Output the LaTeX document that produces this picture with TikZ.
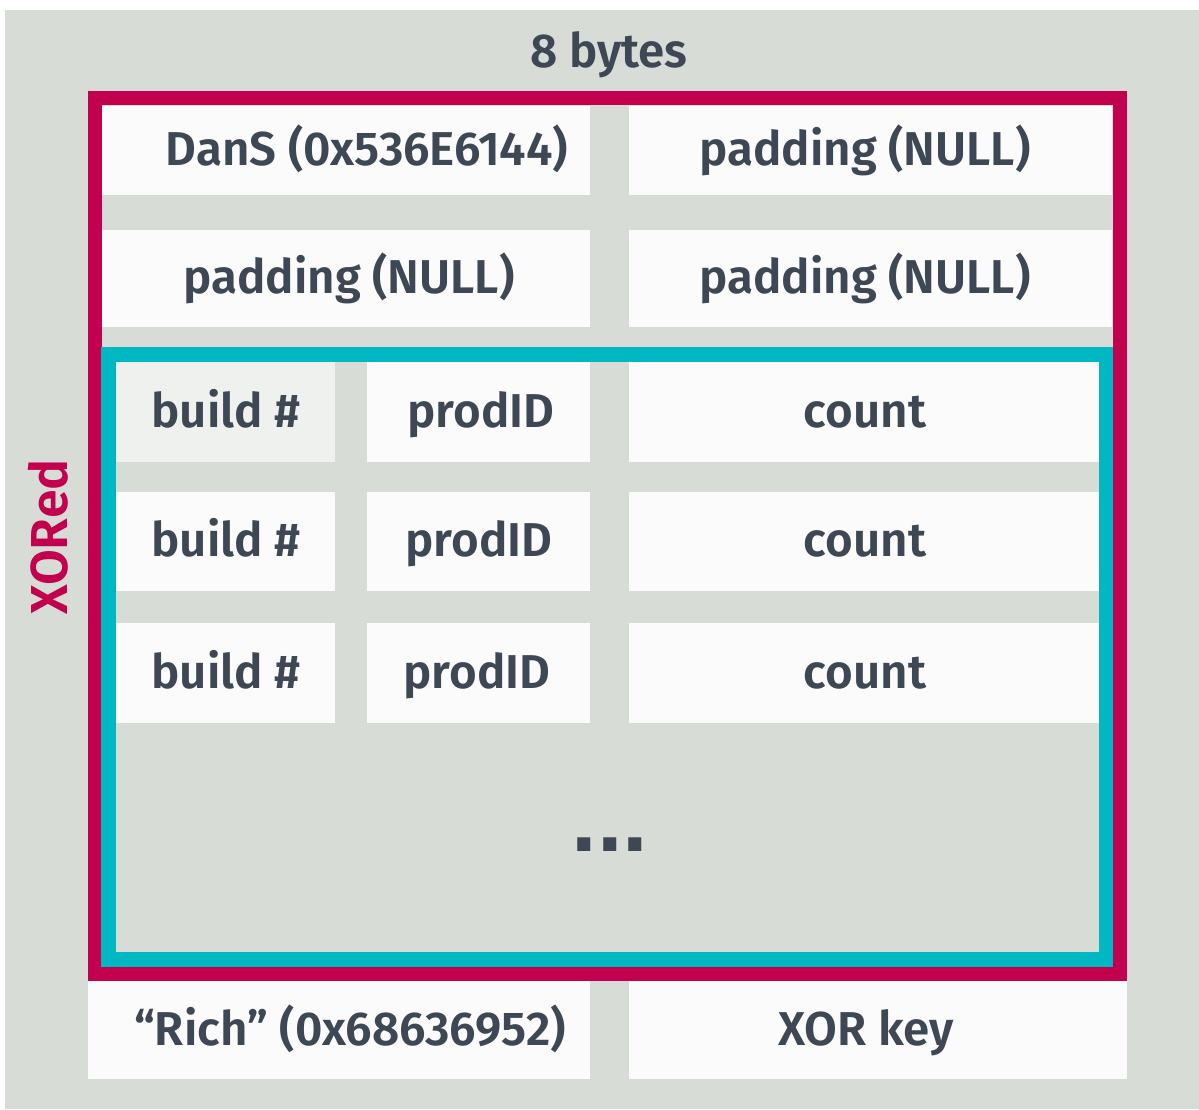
\documentclass[tikz,border=0pt]{standalone}
\usepackage{fontspec}
\setmainfont{Fira Sans}[UprightFont={* SemiBold}]
\newfontfamily\dotfont{Liberation Sans}[UprightFont={* Bold}]
\definecolor{bg}{HTML}{D8DCD6}
\definecolor{cellw}{HTML}{FBFBFB}
\definecolor{cellg}{HTML}{EEF1EE}
\definecolor{crim}{HTML}{C3004E}
\definecolor{teal}{HTML}{00B8C1}
\definecolor{ink}{HTML}{3E4855}
\tikzset{
  cellbox/.style={rectangle, draw=none, fill=cellw, inner sep=0pt},
  cellgray/.style={cellbox, fill=cellg},
  lbl/.style={anchor=base, inner sep=0pt, text=ink, font=\fontsize{47.5}{48}\selectfont},
}
\begin{document}
\begin{tikzpicture}[x=1pt,y=-1pt]
\useasboundingbox (0,0) rectangle (1199,1109);
\fill[white] (0,0) rectangle (1199,1109);
\fill[bg] (5,10) rectangle (1199,1109);

% row 1
\node[cellbox, minimum width=489pt, minimum height=89pt] (r1l) at (345.5,150.5) {};
\node[cellbox, minimum width=483pt, minimum height=89pt] (r1r) at (870.5,150.5) {};
% row 2
\node[cellbox, minimum width=489pt, minimum height=97pt] (r2l) at (345.5,278.5) {};
\node[cellbox, minimum width=483pt, minimum height=97pt] (r2r) at (870.5,278.5) {};
% rows 3-5
\node[cellgray, minimum width=219pt, minimum height=100pt] (b3) at (225.5,412) {};
\node[cellbox, minimum width=223pt, minimum height=100pt] (p3) at (478.5,412) {};
\node[cellbox, minimum width=470pt, minimum height=100pt] (c3) at (864,412) {};
\node[cellbox, minimum width=219pt, minimum height=99pt] (b4) at (225.5,541.5) {};
\node[cellbox, minimum width=223pt, minimum height=99pt] (p4) at (478.5,541.5) {};
\node[cellbox, minimum width=470pt, minimum height=99pt] (c4) at (864,541.5) {};
\node[cellbox, minimum width=219pt, minimum height=100pt] (b5) at (225.5,673) {};
\node[cellbox, minimum width=223pt, minimum height=100pt] (p5) at (478.5,673) {};
\node[cellbox, minimum width=470pt, minimum height=100pt] (c5) at (864,673) {};
% bottom row
\node[cellbox, minimum width=502pt, minimum height=98pt] (rich) at (339,1030) {};
\node[cellbox, minimum width=498pt, minimum height=98pt] (key) at (878,1030) {};

% frames
\draw[crim, line width=14pt] (95,98) rectangle (1120,974);
\draw[teal, line width=14.5pt] (108.5,354.5) rectangle (1106,959.5);

% labels
\node[lbl] (t8) at (609,67) {8 bytes};
\node[lbl] (tr1l) at (367,165) {DanS (0x536E6144)};
\node[lbl] (tr1r) at (865,165) {padding (NULL)};
\node[lbl] (tr2l) at (349,293) {padding (NULL)};
\node[lbl] (tr2r) at (865,293) {padding (NULL)};
\node[lbl] (tb3) at (226,427) {build \#};
\node[lbl] (tp3) at (481,427) {prodID};
\node[lbl] (tc3) at (865,427) {count};
\node[lbl] (tb4) at (226,556) {build \#};
\node[lbl] (tp4) at (479,556) {prodID};
\node[lbl] (tc4) at (865,556) {count};
\node[lbl] (tb5) at (226,688) {build \#};
\node[lbl] (tp5) at (477,688) {prodID};
\node[lbl] (tc5) at (865,688) {count};
\node[lbl] (trich) at (350,1045) {“Rich” (0x68636952)};
\node[lbl] (tkey) at (866,1045) {XOR key};
\node[lbl, anchor=center, font=\dotfont\fontsize{92}{92}\selectfont] (dots) at (610,845) {...};
\node[lbl, anchor=center, text=crim, rotate=90, font=\fontsize{52}{52}\selectfont] (xored) at (48,537) {XORed};
\end{tikzpicture}
\end{document}
